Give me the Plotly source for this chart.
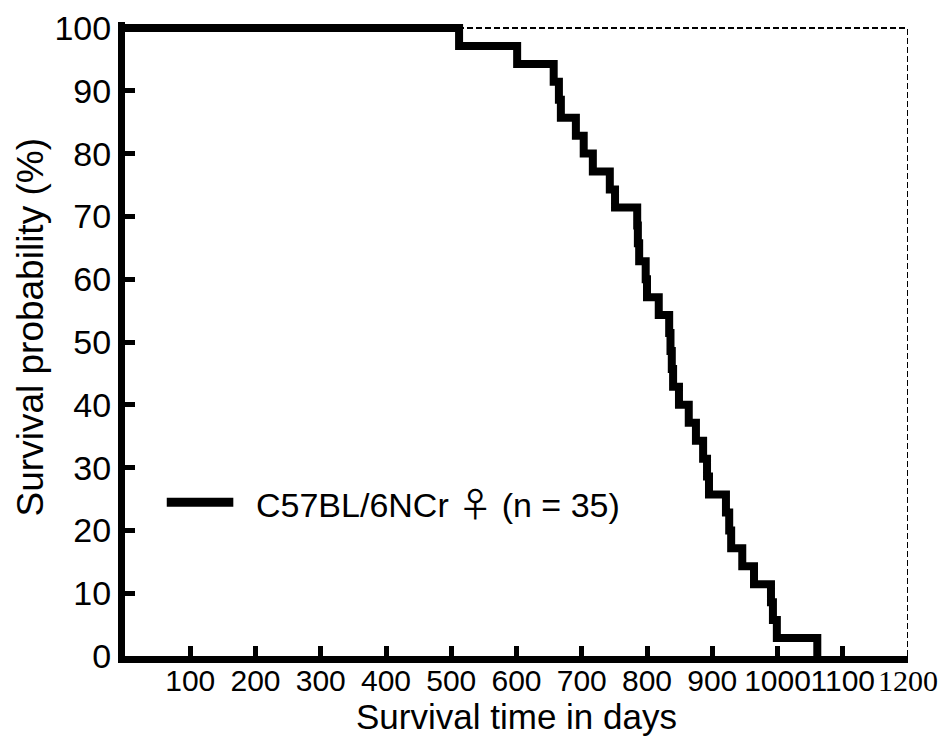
import plotly.graph_objects as go

# Kaplan-Meier data (C57BL/6NCr females, n = 35): event days and animals still alive after each event
event_days = [0, 512, 601, 657, 665, 668, 691, 703, 717, 743, 751, 785, 786, 788, 798, 800,
              818, 834, 836, 838, 840, 849, 864, 875, 886, 892, 895, 921, 926, 929, 946,
              964, 990, 993, 999, 1061]
n_total = 35
n_alive = [35, 34, 33, 32, 31, 30, 29, 28, 27, 26, 25, 24, 23, 22, 21, 20,
           19, 18, 17, 16, 15, 14, 13, 12, 11, 10, 9, 8, 7, 6, 5,
           4, 3, 2, 1, 0]
survival_pct = [100.0 * a / n_total for a in n_alive]

x_ticks = [100, 200, 300, 400, 500, 600, 700, 800, 900, 1000, 1100, 1200]
x_ticktext = ["100", "200", "300", "400", "500", "600", "700", "800", "900", "1000", "1100",
              "<span style='font-family:Liberation Serif, Times New Roman, serif'>1200</span>"]
y_ticks = [0, 10, 20, 30, 40, 50, 60, 70, 80, 90, 100]

legend_label = "C57BL/6NCr <span style='font-family:Noto Sans CJK JP'>\u2640</span> (n = 35)"
y_title = "Survival probability (%)"
x_title = "Survival time in days"

FONT = "Liberation Sans, Arial, sans-serif"

fig = go.Figure()
fig.add_trace(go.Scatter(
    x=event_days, y=survival_pct, mode="lines",
    line=dict(shape="hv", color="black", width=8),
    showlegend=False, name="C57BL/6NCr \u2640 (n = 35)",
))

# dashed frame (top and right)
fig.add_shape(type="line", xref="x", yref="y", x0=0, x1=1200, y0=100, y1=100,
              line=dict(color="black", width=2, dash="6px,3px"), layer="below")
fig.add_shape(type="line", xref="x", yref="y", x0=1200, x1=1200, y0=0, y1=100,
              line=dict(color="black", width=2, dash="6px,3px"), layer="below")

# legend (drawn manually to match the long key line)
fig.add_shape(type="line", xref="x", yref="y", x0=64, x1=166, y0=24.5, y1=24.5,
              line=dict(color="black", width=9))
fig.add_annotation(x=198, y=24.5, xref="x", yref="y", text=legend_label, showarrow=False,
                   xanchor="left", yanchor="middle", font=dict(family=FONT, size=34, color="black"))

# y-axis title placed as rotated text
fig.add_annotation(x=-0.1195, y=0.519, xref="paper", yref="paper", text=y_title, showarrow=False,
                   textangle=-90, xanchor="center", yanchor="middle", borderpad=0,
                   font=dict(family=FONT, size=37, color="black"))

# the page body has an 8px default margin, so the figure is 8px smaller on each side
fig.update_layout(
    template="none",
    width=939, height=741,
    margin=dict(l=117, r=39, t=14, b=93, autoexpand=False),
    plot_bgcolor="white", paper_bgcolor="white",
    font=dict(family=FONT, color="black"),
    showlegend=False,
)
fig.update_xaxes(
    range=[0, 1200], tickvals=x_ticks, ticktext=x_ticktext, tickangle=0, automargin=False,
    ticks="inside", ticklen=10, tickwidth=5, tickcolor="black", ticklabelstandoff=-8,
    showline=True, linewidth=7, linecolor="black", showgrid=False, zeroline=False,
    tickfont=dict(family=FONT, size=30, color="black"),
    title=dict(text=x_title, font=dict(family=FONT, size=35, color="black"), standoff=9),
)
fig.update_yaxes(
    range=[0, 100.96], tickvals=y_ticks, automargin=False,
    ticks="inside", ticklen=10, tickwidth=5, tickcolor="black",
    showline=True, linewidth=7, linecolor="black", showgrid=False, zeroline=False,
    tickfont=dict(family=FONT, size=34, color="black"),
)

fig.write_html("out.html")
